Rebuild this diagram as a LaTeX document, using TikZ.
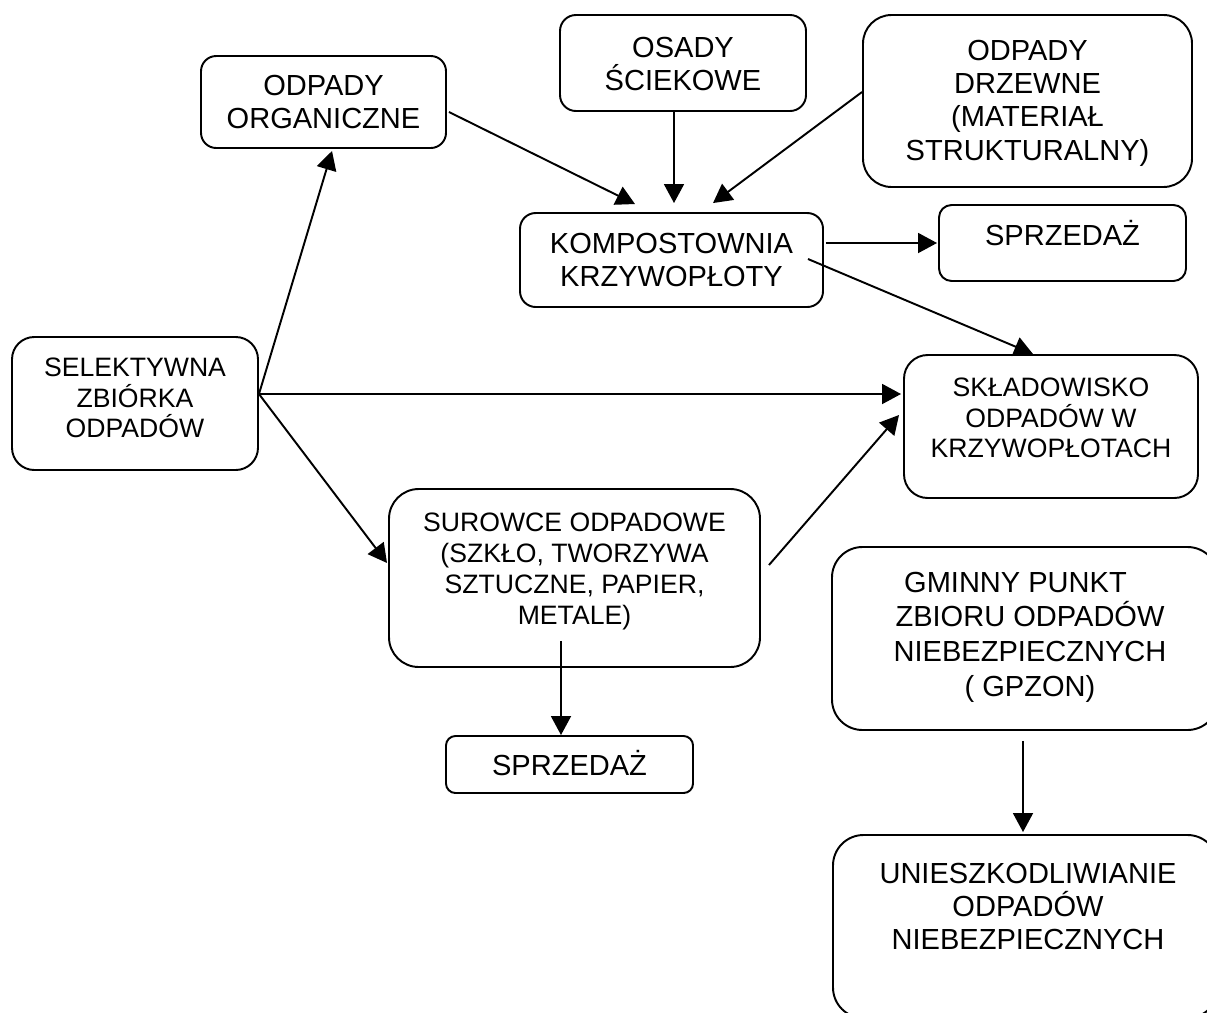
\documentclass[tikz,border=0pt]{standalone}
\usepackage{fontspec}
\setmainfont{Liberation Sans}
\usetikzlibrary{arrows.meta,calc,fit}

\tikzset{
  wbox/.style={draw, line width=0.8pt, rounded corners=#1, inner sep=0pt},
  wbox/.default=6pt,
  bigtext/.style={align=center, inner sep=0pt, anchor=base, font=\fontsize{12}{13.8}\selectfont},
  smalltext/.style={align=center, inner sep=0pt, anchor=base, font=\fontsize{11}{12.65}\selectfont},
  flow/.style={line width=0.8pt, -{Triangle[length=7.8pt,width=8.2pt]}}
}

\begin{document}
\begin{tikzpicture}[x=0.4132pt,y=-0.4132pt]
\useasboundingbox (0,0) rectangle (1207,1012);
\clip (0,0) rectangle (1207,1012);
% Boxes
\node[wbox=6.3pt, fit={(201,56) (446,148)}] (org) {};
\node[wbox=6.6pt, fit={(560,15) (806,111)}] (osady) {};
\node[wbox=11.8pt, fit={(863,15) (1192,187)}] (drz) {};
\node[wbox=6.5pt, fit={(520,213) (823,307)}] (komp) {};
\node[wbox=5.2pt, fit={(939,205) (1186,281)}] (sprz1) {};
\node[wbox=9.2pt, fit={(12,337) (258,470)}] (selek) {};
\node[wbox=9.8pt, fit={(904,355) (1198,498)}] (skl) {};
\node[wbox=12.3pt, fit={(389,489) (760,667)}] (sur) {};
\node[wbox=3.9pt, fit={(446,736) (693,793)}] (sprz2) {};
\node[wbox=12.6pt, fit={(832,547) (1218,730)}] (gpzon) {};
\node[wbox=12.6pt, fit={(833,835) (1218,1018)}] (uni) {};
% Labels (placed by the baseline of their last line)
\node[bigtext] (orgtxt) at (323.5,128.4) {ODPADY\\ORGANICZNE};
\node[bigtext] (osadytxt) at (683,90.4) {OSADY\\ŚCIEKOWE};
\node[bigtext] (drztxt) at (1027.5,160.2) {ODPADY\\DRZEWNE\\(MATERIAŁ\\STRUKTURALNY)};
\node[bigtext] (komptxt) at (671.5,286.4) {KOMPOSTOWNIA\\KRZYWOPŁOTY};
\node[bigtext] (sprz1txt) at (1062.5,245) {SPRZEDAŻ};
\node[smalltext] (selektxt) at (135,437.7) {SELEKTYWNA\\ZBIÓRKA\\ODPADÓW};
\node[smalltext] (skltxt) at (1051,457.7) {SKŁADOWISKO\\ODPADÓW W\hspace*{.3em}\\KRZYWOPŁOTACH};
\node[smalltext, font=\fontsize{11}{12.8}\selectfont] (surtxt) at (574.5,624.5) {SUROWCE ODPADOWE\\(SZKŁO, TWORZYWA\\SZTUCZNE, PAPIER,\\METALE)};
\node[bigtext] (sprz2txt) at (569.5,775) {SPRZEDAŻ};
\node[bigtext, font=\fontsize{12}{14.4}\selectfont] (gpzontxt) at (1030,696.6) {GMINNY PUNKT\hspace*{1em}\\ZBIORU ODPADÓW\\NIEBEZPIECZNYCH\\( GPZON)};
\node[bigtext] (unitxt) at (1028,949.8) {UNIESZKODLIWIANIE\\ODPADÓW\\NIEBEZPIECZNYCH};
% Arrows
\coordinate (hub) at ($(selek.east)+(0,-9.5)$);
\draw[flow] (hub) -- ($(org.south)+(8.5,2)$);
\draw[flow] (hub) -- ($(hub -| skl.west)+(-2,0)$);
\draw[flow] (hub) -- ($(sur.west)+(-1,-15)$);
\draw[flow] ($(org.east)+(2,10)$) -- ($(komp.north)+(-36.5,-8)$);
\coordinate (osadyout) at ($(osady.south)+(-9,0)$);
\draw[flow] (osadyout) -- ($(osadyout |- komp.north)+(0,-9)$);
\draw[flow] ($(drz.west)+(0,-9)$) -- ($(komp.north)+(41.5,-9)$);
\coordinate (kompout) at ($(komp.east)+(2,-17)$);
\draw[flow] (kompout) -- ($(kompout -| sprz1.west)+(-1,0)$);
\draw[flow] ($(komp.east)+(-16,-1)$) -- ($(skl.north)+(-18,0)$);
\draw[flow] ($(sur.east)+(8,-13)$) -- ($(skl.west)+(-4,-11.5)$);
\coordinate (surout) at ($(sur.south)+(-13.5,-27)$);
\draw[flow] (surout) -- (surout |- sprz2.north);
\coordinate (gpzout) at ($(gpzon.south)+(-2,10)$);
\draw[flow] (gpzout) -- ($(gpzout |- uni.north)+(0,-2)$);
\end{tikzpicture}
\end{document}
